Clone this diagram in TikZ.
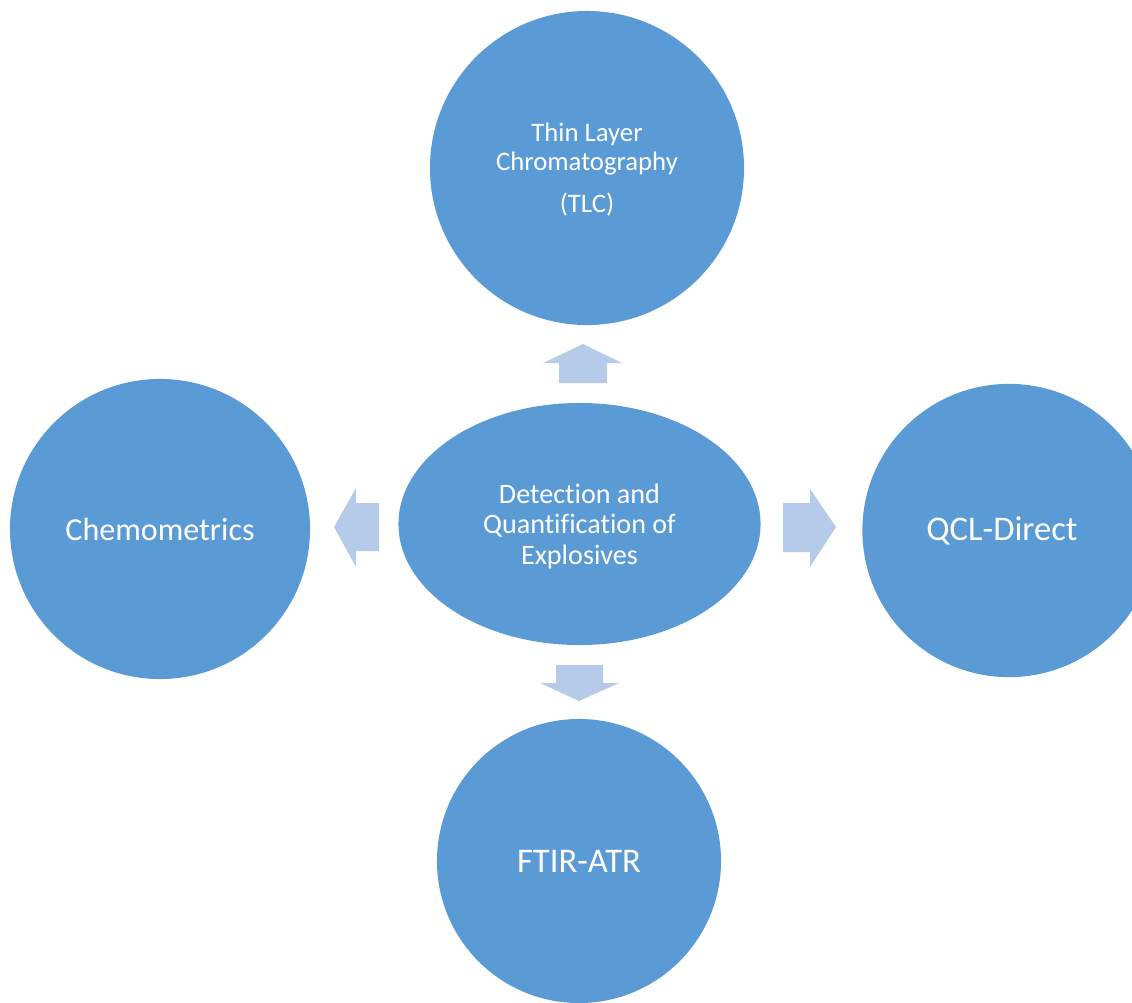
\documentclass[tikz,border=0pt]{standalone}
\usepackage{fontspec}
\setmainfont[Ligatures=CommonOff]{Carlito}
\usetikzlibrary{shapes.geometric}
\usetikzlibrary{positioning}
\definecolor{bubble}{RGB}{91,155,213}
\definecolor{blockarrow}{RGB}{182,203,233}
\tikzset{every picture/.style={x=0.025cm,y=-0.025cm},
topic/.style={circle,fill=bubble,text=white,align=center,inner sep=0pt},
hub/.style={ellipse,fill=bubble,text=white,align=center,inner sep=0pt,minimum width=9.05cm,minimum height=6.05cm},
blk/.style={fill=blockarrow}}

\begin{document}
\begin{tikzpicture}
\path[use as bounding box,clip] (0,0) rectangle (1132,1002);

\node (hub) at (579.5,524) [hub,text depth=0pt,font=\fontsize{20}{21.7}\selectfont] {Detection and\\Quantification of\\Explosives};
\node (tlc) at (587,168) [topic,text depth=0pt,minimum size=7.85cm,font=\fontsize{19}{20.6}\selectfont] {Thin Layer\\Chromatography\\[9pt](TLC)};
\node (chem) at (160,529) [topic,minimum size=7.5cm,font=\fontsize{22.8}{27}\selectfont] {Chemometrics};
\node (qcl) at (1009,530.5) [topic,minimum size=7.33cm,label={[text=white,font=\fontsize{24.6}{29}\selectfont,xshift=-0.175cm]center:QCL-Direct}] {};
\node (ftir) at (579,861) [topic,minimum size=7.1cm,font=\fontsize{24.6}{29}\selectfont] {FTIR-ATR};

\fill[blk] (559,383) -- (559,363) -- (543,363) -- (583,344) -- (622,363) -- (607,363) -- (607,383) -- cycle;
\fill[blk] (556,665) -- (603,665) -- (603,683) -- (619,683) -- (579,701) -- (540,683) -- (556,683) -- cycle;
\fill[blk] (379,503) -- (356,503) -- (356,488) -- (334,527) -- (356,567) -- (356,551) -- (379,551) -- cycle;
\fill[blk] (783,503) -- (810,503) -- (810,489) -- (836,527) -- (810,567) -- (810,552) -- (783,552) -- cycle;

\end{tikzpicture}
\end{document}
